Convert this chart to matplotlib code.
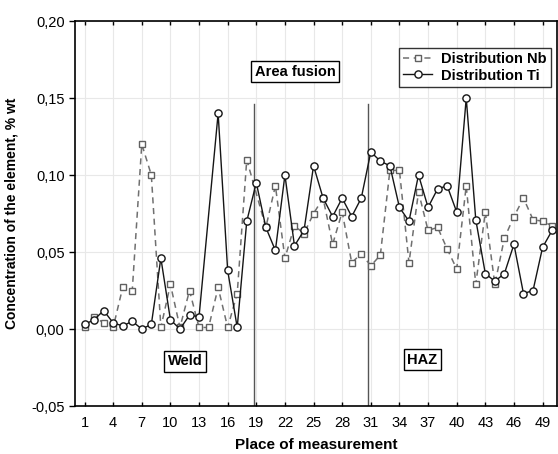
import numpy as np
from matplotlib import pyplot as plt
from matplotlib.ticker import FuncFormatter

plt.rcParams['font.family'] = ['Liberation Sans', 'DejaVu Sans']

# place of measurement 1..50, nan = no point
place = np.arange(1, 51)
nb = np.array([0.001, 0.008, 0.004, 0.001, 0.027, 0.025, 0.120, 0.100, 0.001, 0.029,
               0.001, 0.025, 0.001, 0.001, 0.027, 0.001, 0.023, 0.110, np.nan, 0.066,
               0.093, 0.046, 0.067, 0.062, 0.075, 0.085, 0.055, 0.076, 0.043, 0.049,
               0.041, 0.048, 0.103, 0.103, 0.043, 0.089, 0.064, 0.066, 0.052, 0.039,
               0.093, 0.029, 0.076, 0.029, 0.059, 0.073, 0.085, 0.071, 0.070, 0.067])
ti = np.array([0.003, 0.006, 0.012, 0.004, 0.002, 0.005, 0.000, 0.003, 0.046, 0.006,
               0.000, 0.009, 0.008, np.nan, 0.140, 0.038, 0.001, 0.070, 0.095, 0.066,
               0.051, 0.100, 0.054, 0.064, 0.106, 0.085, 0.073, 0.085, 0.073, 0.085,
               0.115, 0.109, 0.106, 0.079, 0.070, 0.100, 0.079, 0.091, 0.093, 0.076,
               0.150, 0.071, 0.036, 0.031, 0.036, 0.055, 0.023, 0.025, 0.053, 0.064])

zones = [18.8, 30.7]
zone_top = 0.146
labels = [("Weld", 11.55, -0.021), ("Area fusion", 23.1, 0.167), ("HAZ", 36.4, -0.020)]

fig = plt.figure(figsize=(5.58, 4.54), dpi=100)
ax = fig.add_axes([0.1344, 0.1057, 0.8636, 0.848])

m = ~np.isnan(nb)
ax.plot(place[m], nb[m], ls=(0, (4, 3)), color='#707070', lw=1.1, marker='s', ms=4.8,
        mfc='white', mec='#606060', mew=1.0, label='Distribution Nb', zorder=3)
m = ~np.isnan(ti)
ax.plot(place[m], ti[m], ls='-', color='#151515', lw=1.0, marker='o', ms=5.2,
        mfc='white', mec='#151515', mew=1.0, label='Distribution Ti', zorder=4)

for z in zones:
    ax.plot([z, z], [-0.05, zone_top], color='#555555', lw=1.0, zorder=2)

for txt, x, y in labels:
    ax.text(x, y, txt, ha='center', va='center', fontsize=10.5, fontweight='bold',
            bbox=dict(boxstyle='square,pad=0.25', fc='white', ec='black', lw=1.0), zorder=5)

ax.set_xlim(0, 50.5)
ax.set_ylim(-0.05, 0.20)
ax.set_xticks(np.arange(1, 50, 3))
ax.set_yticks(np.arange(-0.05, 0.201, 0.05))
ax.yaxis.set_major_formatter(FuncFormatter(lambda v, p: ('%.2f' % v).replace('.', ',').replace('-0,00', '0,00')))
ax.tick_params(axis='x', labelsize=10.5, length=3, width=1.0, direction='in', top=True, pad=7)
ax.tick_params(axis='y', labelsize=10.5, length=4, width=1.0, direction='out')
ax.grid(True, color='#e8e8e8', lw=0.8)
ax.set_axisbelow(True)
for s in ax.spines.values():
    s.set_linewidth(1.2)

ax.set_xlabel('Place of measurement', fontsize=11, fontweight='bold', labelpad=6)
ax.set_ylabel('Concentration of the element, % wt', fontsize=10, fontweight='bold', labelpad=9)

leg = ax.legend(loc='upper right', bbox_to_anchor=(0.9875, 0.93), borderaxespad=0,
                fontsize=10.5, frameon=True, fancybox=False, edgecolor='black',
                handlelength=2.0, borderpad=0.3, labelspacing=0.15, handletextpad=0.6)
leg.get_frame().set_linewidth(1.0)
for t in leg.get_texts():
    t.set_fontweight('bold')

fig.savefig('out.png', dpi=100)
